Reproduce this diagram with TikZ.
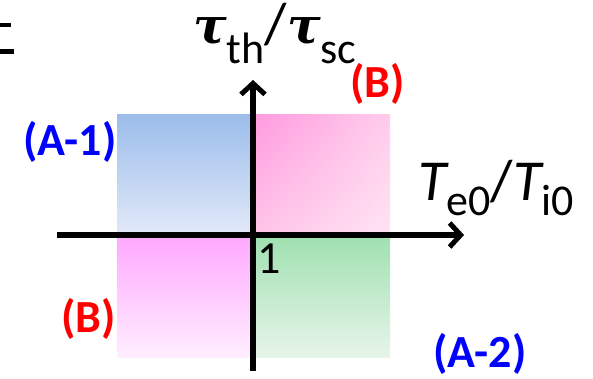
\documentclass[tikz,border=0pt]{standalone}
\usepackage{fontspec}
\setmainfont{Carlito}
\newfontfamily\taufont{DejaVu Serif}
\usetikzlibrary{arrows.meta,shadings}
\definecolor{blueT}{HTML}{9BBDEB}
\definecolor{blueB}{HTML}{E2E9F8}
\definecolor{pinkUL}{HTML}{FF9ADF}
\definecolor{pinkUR}{HTML}{FFCCEB}
\definecolor{pinkLL}{HTML}{FFC4E8}
\definecolor{pinkLR}{HTML}{FFE4F3}
\definecolor{magT}{HTML}{FFA8FF}
\definecolor{magB}{HTML}{FFEEFF}
\definecolor{greenT}{HTML}{A0E0B0}
\definecolor{greenB}{HTML}{E6F5EA}
\definecolor{lblblue}{HTML}{0000FF}
\definecolor{lblred}{HTML}{FF0000}
\tikzset{
  axisline/.style={line width=5.5pt, -{Straight Barb[length=11pt,width=24pt,line width=5pt]}},
  quadlabel/.style={anchor=base west, inner sep=0pt, font=\fontsize{46}{46}\selectfont\bfseries},
  axislabel/.style={anchor=base west, inner sep=0pt},
}
\newcommand{\mainsz}{\fontsize{58}{58}\selectfont}
\newcommand{\subsz}{\fontsize{44}{44}\selectfont}
\newcommand{\tauglyph}{{\taufont\fontsize{50}{50}\selectfont\bfseries\itshape τ}}
\begin{document}
\begin{tikzpicture}[x=1pt,y=-1pt]
\useasboundingbox (0,0) rectangle (593,378);
% quadrant fills
\shade[top color=blueT, bottom color=blueB] (117,114) rectangle (253,235);
\shade[upper left=pinkUL, upper right=pinkUR, lower left=pinkLL, lower right=pinkLR] (253,114) rectangle (390,235);
\shade[top color=magT, bottom color=magB] (117,235) rectangle (253,357);
\shade[top color=greenT, bottom color=greenB] (253,235) rectangle (390,357);
% top-left fragments
\fill[black] (0,23) rectangle (11,27);
\fill[black] (0,49) rectangle (14,54);
% axes
\coordinate (xs) at (57,235);
\coordinate (xe) at (464,235);
\coordinate (ys) at (253,371);
\coordinate (ye) at (253,80);
\draw[axisline] (xs) -- (xe);
\draw[axisline] (ys) -- (ye);
% axis labels
\node[axislabel] (ylab) at (193,43) {\mainsz\tauglyph\raisebox{-20pt}{\subsz th}/\tauglyph\raisebox{-20pt}{\subsz sc}};
\node[axislabel] (xlab) at (418,200) {\mainsz\itshape T\raisebox{-15pt}{\subsz\upshape e0}\upshape/\itshape T\raisebox{-15pt}{\subsz\upshape i0}};
\node[axislabel] (one) at (257,273) {\fontsize{46}{46}\selectfont 1};
% quadrant labels
\node[quadlabel, text=lblblue] (a1) at (23,155) {(A-1)};
\node[quadlabel, text=lblred] (b1) at (350,97) {(B)};
\node[quadlabel, text=lblred] (b2) at (61,332) {(B)};
\node[quadlabel, text=lblblue] (a2) at (433,367) {(A-2)};
\end{tikzpicture}
\end{document}
